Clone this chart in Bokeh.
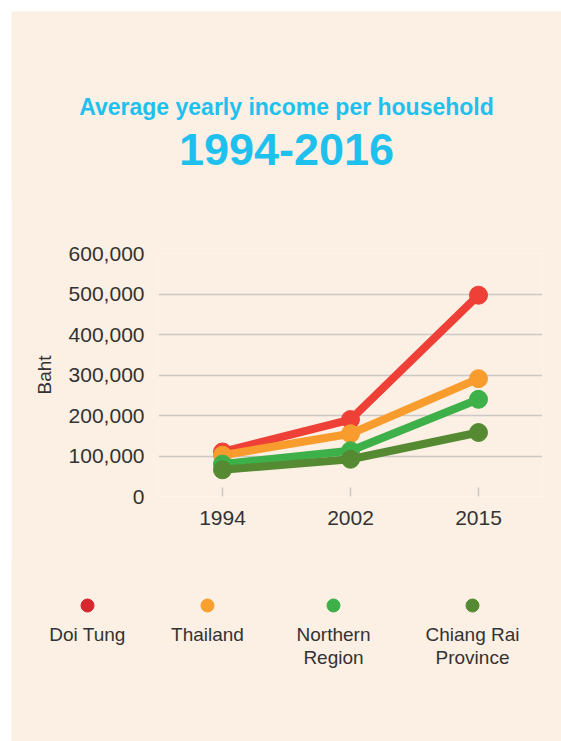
from bokeh.plotting import figure
from bokeh.models import Range1d, FactorRange, NumeralTickFormatter, FixedTicker
from bokeh.embed import file_html
from bokeh.resources import INLINE
from bokeh.core.properties import value

# ---------------- data ----------------
years = ["1994", "2002", "2015"]
series_names = ["Doi Tung", "Thailand", "Northern Region", "Chiang Rai Province"]
legend_labels = ["Doi Tung", "Thailand", "Northern\nRegion", "Chiang Rai\nProvince"]
doi_tung = [110000, 190000, 497000]
thailand = [102000, 155000, 291000]
northern_region = [80000, 113000, 240000]
chiang_rai = [66000, 92000, 158000]
y_ticks = [0, 100000, 200000, 300000, 400000, 500000, 600000]
title_1 = "Average yearly income per household"
title_2 = "1994-2016"
y_label = "Baht"

# ---------------- style ----------------
BG = "#fcefe3"
FONT = "Liberation Sans"
TXT = "#333333"
TITLE_C = "#1ec1ee"
GRID_C = "#cbc8c6"
line_colors = ["#ee4036", "#f89c2e", "#3eb049", "#558a32"]
legend_colors = ["#d6282f", "#f9a02e", "#3eb049", "#558a32"]
series = [doi_tung, thailand, northern_region, chiang_rai]

W = 550
OV = 2  # overlap between stacked figures, hides sub-pixel seams
TITLE_H, CHART_H, LEG_H = 189, 360 + OV, 181 + OV


def blank(h, margin, top_pad=0):
    f = figure(width=W, height=h, x_range=Range1d(0, W), y_range=Range1d(h - top_pad, -top_pad),
               x_axis_type=None, y_axis_type=None, toolbar_location=None,
               output_backend="svg", min_border=0, background_fill_color=BG,
               border_fill_color=BG, outline_line_color=None, margin=margin)
    f.grid.visible = False
    return f


# ---------------- title ----------------
pt = blank(TITLE_H, (11, 0, 0, 11))
pt.text(x=[275], y=[95], text=[title_1], text_font=value(FONT), text_font_size="23px",
        text_font_style="bold", text_color=TITLE_C, text_align="center", text_baseline="middle")
pt.text(x=[275], y=[138], text=[title_2], text_font=value(FONT), text_font_size="45px",
        text_font_style="bold", text_color=TITLE_C, text_align="center", text_baseline="middle")

# ---------------- chart ----------------
p = figure(width=W, height=CHART_H, x_range=FactorRange(factors=years),
           y_range=Range1d(0, 600000), toolbar_location=None, output_backend="svg",
           min_border_left=147, min_border_right=19, min_border_top=53 + OV, min_border_bottom=64,
           background_fill_color=BG, border_fill_color=BG, outline_line_color=None,
           margin=(-OV, 0, 0, 11))

for vals, c in zip(series, line_colors):
    p.line(years, vals, line_width=8, color=c)
    p.scatter(years, vals, size=18, color=c)

p.xgrid.visible = False
p.ygrid.grid_line_color = GRID_C
p.ygrid.grid_line_width = 1.5

p.yaxis.ticker = FixedTicker(ticks=y_ticks)
p.yaxis.formatter = NumeralTickFormatter(format="0,0")
p.yaxis.axis_line_color = None
p.yaxis.major_tick_line_color = None
p.yaxis.minor_tick_line_color = None
p.yaxis.major_label_standoff = 8
p.yaxis.axis_label = y_label
p.yaxis.axis_label_standoff = 11
p.yaxis.axis_label_text_font = FONT
p.yaxis.axis_label_text_font_size = "19px"
p.yaxis.axis_label_text_font_style = "normal"
p.yaxis.axis_label_text_color = TXT

p.xaxis.axis_line_color = None
p.xaxis.major_tick_in = 9
p.xaxis.major_tick_out = 0
p.xaxis.major_tick_line_color = GRID_C
p.xaxis.major_tick_line_width = 1.5
p.xaxis.major_label_standoff = 14

for ax in (p.xaxis, p.yaxis):
    ax.major_label_text_font = FONT
    ax.major_label_text_font_size = "21px"
    ax.major_label_text_color = TXT

# ---------------- legend ----------------
pl = blank(LEG_H, (-OV, 0, 0, 11), top_pad=OV)
leg_x = [76, 196, 322, 461]
pl.scatter(x=leg_x, y=[45] * 4, size=13, color=legend_colors)
line1 = [s.split("\n")[0] for s in legend_labels]
line2 = [s.split("\n")[1] if "\n" in s else "" for s in legend_labels]
pl.text(x=leg_x, y=[74] * 4, text=line1, text_font=value(FONT), text_font_size="19px",
        text_color=TXT, text_align="center", text_baseline="middle")
pl.text(x=leg_x, y=[97] * 4, text=line2, text_font=value(FONT), text_font_size="19px",
        text_color=TXT, text_align="center", text_baseline="middle")

open("out.html", "w").write(file_html([pt, p, pl], INLINE))
